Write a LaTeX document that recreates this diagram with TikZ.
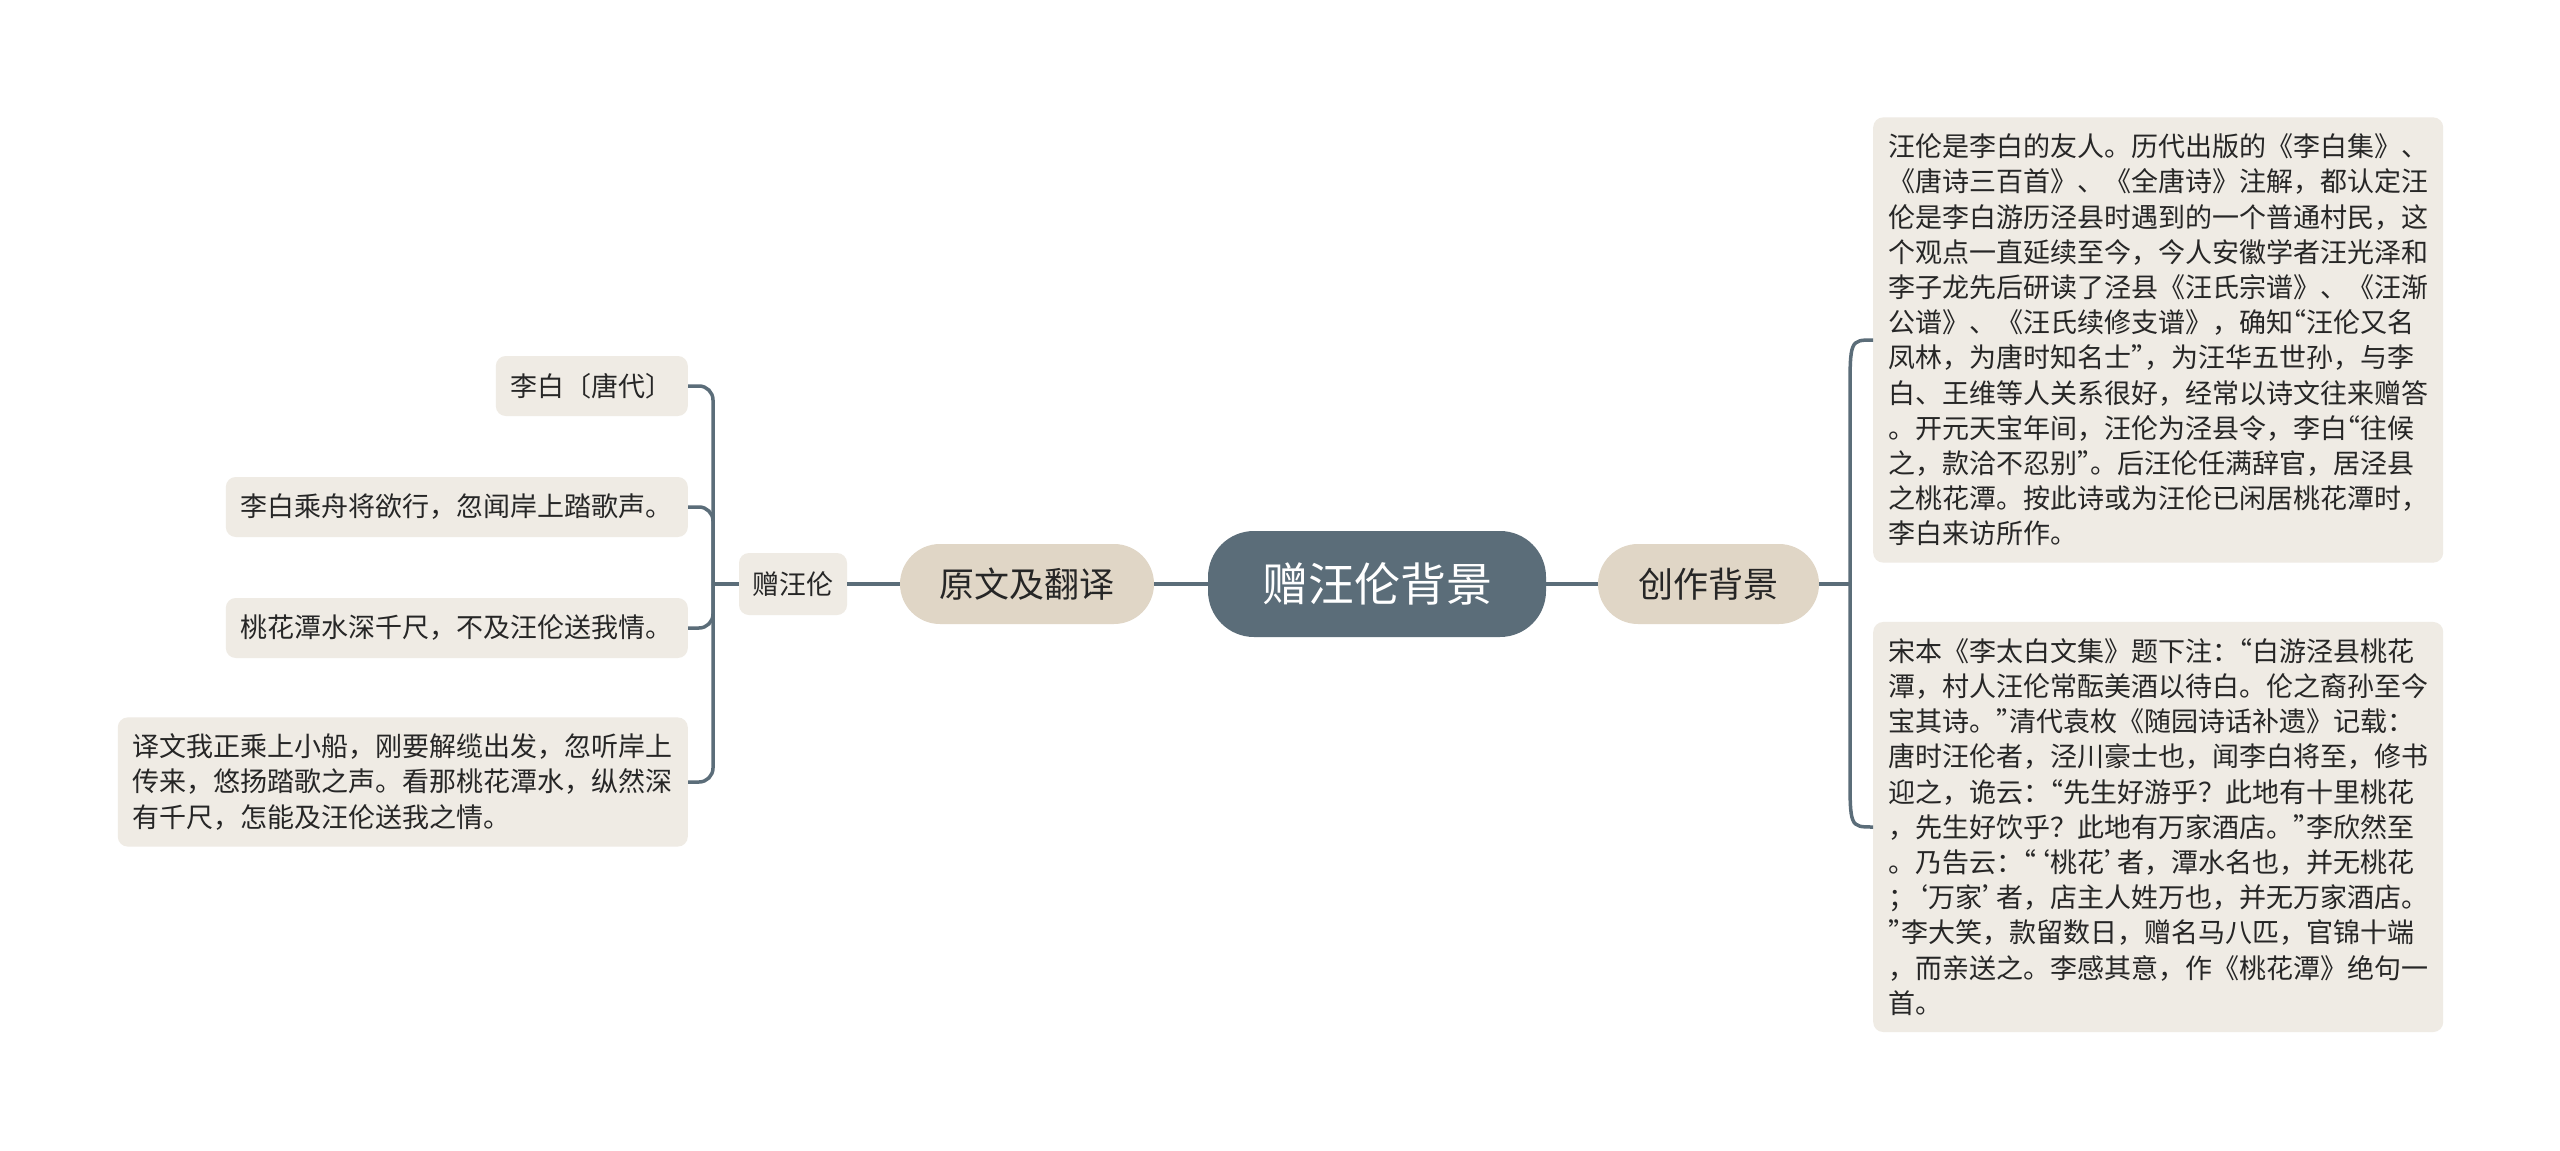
\documentclass[tikz,border=0pt]{standalone}
\usepackage{fontspec}
\setmainfont{Noto Sans CJK SC}
\usetikzlibrary{calc}
\definecolor{slate}{HTML}{5B6D79}
\definecolor{beige}{HTML}{E0D6C6}
\definecolor{paper}{HTML}{EFEBE4}
\definecolor{ink}{HTML}{262626}
\newcommand{\oqd}{\makebox[13.5pt][r]{“}}
\newcommand{\cqd}{\makebox[13.5pt][l]{”}}
\newcommand{\oqs}{\makebox[13.5pt][r]{‘}}
\newcommand{\cqs}{\makebox[13.5pt][l]{’}}
\begin{document}
\begin{tikzpicture}[x=1pt,y=-1pt,
  conn/.style={draw=slate, line width=3.5pt},
  leaf/.style={fill=paper, rounded corners=10pt, inner xsep=15pt, inner ysep=16.5pt,
    minimum height=60pt, text=ink, font=\fontsize{27}{35.2}\selectfont, align=left},
  para/.style={leaf, text width=540pt},
  mid/.style={fill=beige, rounded corners=40pt, minimum height=80pt, inner xsep=0pt,
    text=ink, font=\fontsize{35}{40}\selectfont},
  root/.style={fill=slate, rounded corners=46pt, minimum width=338pt, minimum height=106pt,
    inner sep=0pt, text=white, font=\fontsize{46}{52}\selectfont}
]
\path[use as bounding box, fill=white] (0,0) rectangle (2560,1151);

% main row
\node[root] (root) at (1377,584) {赠汪伦背景};
\node[mid, minimum width=254pt] (yw) at (1027,584) {原文及翻译};
\node[mid, minimum width=221pt] (cz) at (1708.5,584) {创作背景};
\node[leaf, inner xsep=0pt, minimum width=108pt, minimum height=62pt] (zwl) at (793,584) {赠汪伦};

% left leaves
\node[leaf, anchor=east] (l1) at (688,386) {李白〔唐代〕};
\node[leaf, anchor=east] (l2) at (688,507) {李白乘舟将欲行，忽闻岸上踏歌声。};
\node[leaf, anchor=east] (l3) at (688,628) {桃花潭水深千尺，不及汪伦送我情。};
\node[para, anchor=east] (l4) at (688,782) {译文我正乘上小船，刚要解缆出发，忽听岸上\\传来，悠扬踏歌之声。看那桃花潭水，纵然深\\有千尺，怎能及汪伦送我之情。};

% right paragraphs
\node[para, anchor=west] (b1) at (1873,340) {汪伦是李白的友人。历代出版的《李白集》、\\《唐诗三百首》、《全唐诗》注解，都认定汪\\伦是李白游历泾县时遇到的一个普通村民，这\\个观点一直延续至今，今人安徽学者汪光泽和\\李子龙先后研读了泾县《汪氏宗谱》、《汪渐\\公谱》、《汪氏续修支谱》，确知\oqd 汪伦又名\\凤林，为唐时知名士\cqd ，为汪华五世孙，与李\\白、王维等人关系很好，经常以诗文往来赠答\\。开元天宝年间，汪伦为泾县令，李白\oqd 往候\\之，款洽不忍别\cqd 。后汪伦任满辞官，居泾县\\之桃花潭。按此诗或为汪伦已闲居桃花潭时，\\李白来访所作。};
\node[para, anchor=west] (b2) at (1873,827) {宋本《李太白文集》题下注：\oqd 白游泾县桃花\\潭，村人汪伦常酝美酒以待白。伦之裔孙至今\\宝其诗。\cqd 清代袁枚《随园诗话补遗》记载：\\唐时汪伦者，泾川豪士也，闻李白将至，修书\\迎之，诡云：\oqd 先生好游乎？此地有十里桃花\\，先生好饮乎？此地有万家酒店。\cqd 李欣然至\\。乃告云：\oqd\oqs 桃花\cqs 者，潭水名也，并无桃花\\；\oqs 万家\cqs 者，店主人姓万也，并无万家酒店。\\\cqd 李大笑，款留数日，赠名马八匹，官锦十端\\，而亲送之。李感其意，作《桃花潭》绝句一\\首。};

% connectors, main row
\draw[conn] (root.west) -- (yw.east);
\draw[conn] (yw.west) -- (zwl.east);
\draw[conn] (root.east) -- (cz.west);

% left bracket
\coordinate (jl) at (713,584);
\draw[conn] (zwl.west) -- (jl);
\foreach \n in {l1,l2,l3,l4}{
  \draw[conn, rounded corners=14pt] (jl) |- (\n.east);
}

% right bracket
\coordinate (jr) at (1850,584);
\draw[conn] (cz.east) -- (jr);
\draw[conn] (jr) -- ($(jr|-b1.west)+(0,55)$) .. controls (jr|-b1.west) .. (b1.west);
\draw[conn] (jr) -- ($(jr|-b2.west)+(0,-55)$) .. controls (jr|-b2.west) .. (b2.west);
\end{tikzpicture}
\end{document}
